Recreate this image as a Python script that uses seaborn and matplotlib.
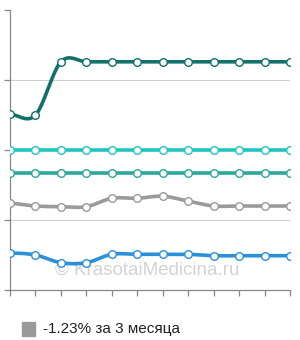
import numpy as np
import pandas as pd
import matplotlib
matplotlib.use("Agg")
import matplotlib.pyplot as plt
import seaborn as sns
from matplotlib.patches import Rectangle

# ---- data ----
months = list(range(12))
s_dark = [2.51, 2.50, 3.26, 3.26, 3.26, 3.26, 3.26, 3.26, 3.26, 3.26, 3.26, 3.26]
s_cyan = [2.00] * 12
s_teal = [1.67] * 12
s_gray = [1.24, 1.20, 1.19, 1.19, 1.31, 1.31, 1.34, 1.27, 1.20, 1.20, 1.20, 1.20]
s_blue = [0.53, 0.50, 0.39, 0.39, 0.51, 0.51, 0.51, 0.51, 0.49, 0.49, 0.49, 0.49]
series = [s_dark, s_cyan, s_teal, s_gray, s_blue]
colors = ["#13706a", "#1fc6bd", "#2ba79b", "#9a9a9a", "#2a91d8"]
legend_label = "-1.23% за 3 месяца"
watermark = "© KrasotaiMedicina.ru"


def smooth(xs, ys, n=20):
    xs = np.asarray(xs, float); ys = np.asarray(ys, float)
    px = np.concatenate([[2 * xs[0] - xs[1]], xs, [2 * xs[-1] - xs[-2]]])
    py = np.concatenate([[ys[0]], ys, [ys[-1]]])
    ox, oy = [], []
    t = np.linspace(0, 1, n, endpoint=False)
    for i in range(1, len(px) - 2):
        for arr, out in ((px, ox), (py, oy)):
            p0, p1, p2, p3 = arr[i - 1], arr[i], arr[i + 1], arr[i + 2]
            out.extend(0.5 * ((2 * p1) + (-p0 + p2) * t
                              + (2 * p0 - 5 * p1 + 4 * p2 - p3) * t ** 2
                              + (-p0 + 3 * p1 - 3 * p2 + p3) * t ** 3))
    ox.append(xs[-1]); oy.append(ys[-1])
    return np.array(ox), np.array(oy)


sns.set_style("white")
plt.rcParams["font.family"] = ["Liberation Sans", "DejaVu Sans"]

fig = plt.figure(figsize=(3.0, 3.4), dpi=100)
ax = fig.add_axes([10 / 300, 50 / 340, 280 / 300, 280 / 340])

for ys, c in zip(series, colors):
    sx, sy = smooth(months, ys)
    sns.lineplot(x=sx, y=sy, ax=ax, color=c, lw=2.6, sort=False, estimator=None, zorder=2)
    sns.scatterplot(x=months, y=ys, ax=ax, color="white", edgecolor=c, s=30,
                    linewidth=1.0, zorder=3)

ax.set_xlim(0, 11)
ax.set_ylim(0, 4)
ax.set_yticks([0, 1, 2, 3, 4])
ax.set_xticks(months)
ax.set_yticklabels([])
ax.set_xticklabels([])
for y in [1, 2, 3]:
    ax.axhline(y, color="#d0d0d0", lw=0.8, zorder=1)
for side in ["top", "right"]:
    ax.spines[side].set_visible(False)
for side in ["left", "bottom"]:
    ax.spines[side].set_color("#888888")
    ax.spines[side].set_linewidth(0.9)
ax.tick_params(axis="both", length=4, width=0.9, color="#888888",
               left=True, bottom=True)

ax.text(0.49, 0.07, watermark, transform=ax.transAxes, ha="center", va="center",
        fontsize=13.5, color="#d3d3d3", zorder=0)

fig.add_artist(Rectangle((22 / 300, (340 - 336) / 340), 13 / 300, 14 / 340,
                         transform=fig.transFigure, color="#9a9a9a"))
fig.text(43 / 300, (340 - 329) / 340, legend_label, ha="left", va="center",
         fontsize=11, color="#222222")

fig.savefig("out.png", dpi=100)
